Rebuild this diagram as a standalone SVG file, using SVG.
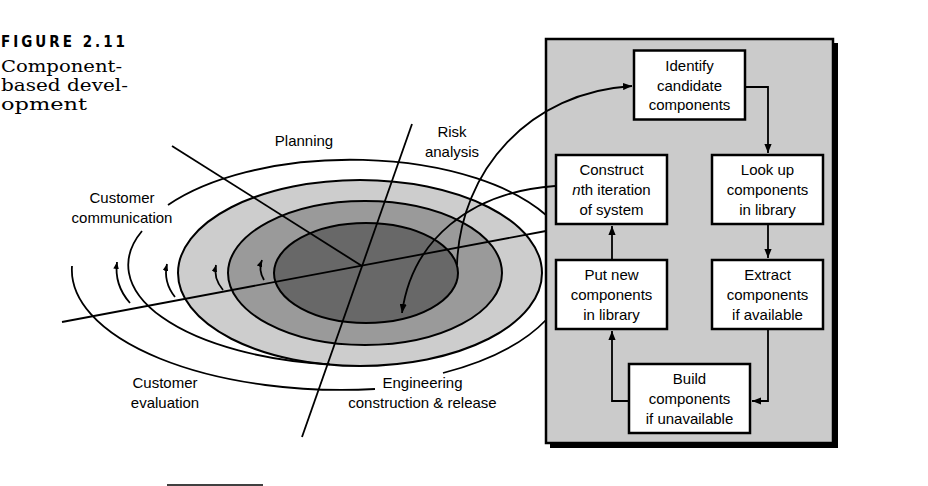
<svg xmlns="http://www.w3.org/2000/svg" width="928" height="486" viewBox="0 0 928 486">
<defs>
<style>
.ln{fill:none;stroke:#000;stroke-width:1.8}
.el{stroke:#000;stroke-width:2}
.box{fill:#fff;stroke:#000;stroke-width:2.5}
.t{font-family:"Liberation Sans",Arial,sans-serif;font-size:15px;fill:#000;text-anchor:middle}
.cap{font-family:"DejaVu Serif",serif;font-size:17px;fill:#000}
</style>
<marker id="ah" viewBox="0 0 10 8" refX="10" refY="4" markerUnits="userSpaceOnUse" markerWidth="9" markerHeight="7.2" orient="auto"><path d="M0,0 L10,4 L0,8 z" fill="#000"/></marker>
<marker id="as" viewBox="0 0 10 8" refX="10" refY="4" markerUnits="userSpaceOnUse" markerWidth="7" markerHeight="5.6" orient="auto"><path d="M0,0 L10,4 L0,8 z" fill="#000"/></marker>
</defs>
<rect width="928" height="486" fill="#fff"/>

<g id="caption">
<text x="1" y="47" font-family="DejaVu Sans Condensed,DejaVu Sans,sans-serif" font-weight="bold" font-size="15" textLength="124" lengthAdjust="spacing">FIGURE 2.11</text>
<text class="cap" x="1" y="72" textLength="121" lengthAdjust="spacingAndGlyphs">Component-</text>
<text class="cap" x="1" y="91" textLength="127" lengthAdjust="spacingAndGlyphs">based devel-</text>
<text class="cap" x="1" y="110" textLength="86" lengthAdjust="spacingAndGlyphs">opment</text>
</g>

<g id="spiral">
<ellipse class="el" cx="360" cy="273" rx="182" ry="93" fill="#cdcdcd"/>
<ellipse class="el" cx="365" cy="273" rx="137" ry="72" fill="#9a9a9a"/>
<ellipse class="el" cx="366" cy="273" rx="92" ry="50" fill="#686868"/>
<path class="ln" d="M142,231 A230,100 0 0 0 330,364.3"/>
<path class="ln" d="M168,205 A222,105 0 0 1 546,215"/>
<path class="ln" d="M546,320 A240,115 0 0 1 443,373"/>
<path class="ln" d="M375,389 A270,120 0 0 1 72,266"/>
<path class="ln" marker-end="url(#as)" d="M130,303 Q114,285 117,262"/>
<path class="ln" marker-end="url(#as)" d="M175,297 Q163,282 167,264"/>
<path class="ln" marker-end="url(#as)" d="M223,290 Q213,278 216,265"/>
<path class="ln" marker-end="url(#as)" d="M264,280 Q258,270 262,260"/>
<line class="ln" x1="62" y1="322" x2="546" y2="231"/>
<line class="ln" x1="172" y1="146" x2="362" y2="266"/>
<line class="ln" x1="412" y1="124" x2="302" y2="437"/>
</g>

<g id="labels">
<text class="t" x="304" y="146">Planning</text>
<text class="t" x="452" y="137">Risk</text>
<text class="t" x="452" y="157">analysis</text>
<text class="t" x="122" y="203">Customer</text>
<text class="t" x="122" y="223">communication</text>
<text class="t" x="165" y="388">Customer</text>
<text class="t" x="165" y="408">evaluation</text>
<text class="t" x="422.5" y="388">Engineering</text>
<text class="t" x="422.5" y="408">construction &amp; release</text>
</g>

<g id="panel">
<rect x="550" y="43" width="288" height="405" fill="#000"/>
<rect x="546" y="39" width="287" height="404" fill="#cbcbcb" stroke="#000" stroke-width="2.5"/>
</g>

<g id="connectors">
<path class="ln" marker-end="url(#ah)" d="M457,265 C460,170 530,92 632,86"/>
<path class="ln" marker-end="url(#ah)" d="M555,186 C470,192 412,240 402,313"/>
<path class="ln" marker-end="url(#ah)" d="M746,87 H768 V153"/>
<path class="ln" marker-end="url(#ah)" d="M768,225 V258"/>
<path class="ln" marker-end="url(#ah)" d="M768,330 V401 H752"/>
<path class="ln" marker-end="url(#ah)" d="M628,401 H612 V331"/>
<path class="ln" marker-end="url(#ah)" d="M612,259 V226"/>
</g>

<g id="identify">
<rect class="box" x="634" y="50.5" width="111" height="69"/>
<text class="t" x="689.5" y="70.5">Identify</text>
<text class="t" x="689.5" y="90.5">candidate</text>
<text class="t" x="689.5" y="110">components</text>
</g>
<g id="construct">
<rect class="box" x="556" y="155" width="111" height="69"/>
<text class="t" x="611.5" y="175">Construct</text>
<text class="t" x="611.5" y="195"><tspan font-style="italic">n</tspan>th iteration</text>
<text class="t" x="611.5" y="214.5">of system</text>
</g>
<g id="lookup">
<rect class="box" x="712" y="155" width="111" height="69"/>
<text class="t" x="767.5" y="175">Look up</text>
<text class="t" x="767.5" y="195">components</text>
<text class="t" x="767.5" y="214.5">in library</text>
</g>
<g id="putnew">
<rect class="box" x="556" y="260" width="111" height="69"/>
<text class="t" x="611.5" y="280">Put new</text>
<text class="t" x="611.5" y="300">components</text>
<text class="t" x="611.5" y="319.5">in library</text>
</g>
<g id="extract">
<rect class="box" x="712" y="260" width="111" height="69"/>
<text class="t" x="767.5" y="280">Extract</text>
<text class="t" x="767.5" y="300">components</text>
<text class="t" x="767.5" y="319.5">if available</text>
</g>
<g id="build">
<rect class="box" x="629" y="364" width="121" height="69"/>
<text class="t" x="689.5" y="384">Build</text>
<text class="t" x="689.5" y="404">components</text>
<text class="t" x="689.5" y="423.5">if unavailable</text>
</g>

<line x1="167" y1="485" x2="263" y2="485" stroke="#000" stroke-width="1.5"/>
</svg>
